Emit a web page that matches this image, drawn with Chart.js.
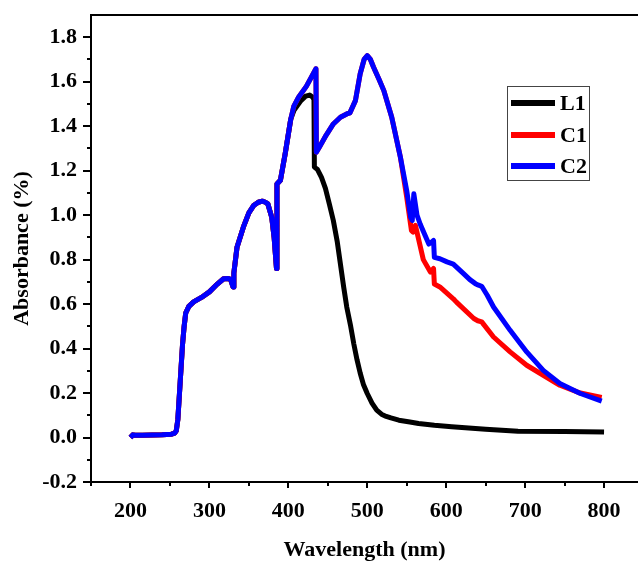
<!DOCTYPE html>
<html>
<head>
<meta charset="utf-8">
<script src="https://cdn.jsdelivr.net/npm/chart.js@4/dist/chart.umd.min.js"></script>
<style>
  html, body { margin: 0; padding: 0; background: #fff; }
  #wrap { width: 638px; height: 564px; }
</style>
</head>
<body>
<div id="wrap"><canvas id="c" width="638" height="564"></canvas></div>
<script>
// ---- data ----
const seriesNames = ['L1', 'C1', 'C2'];
const seriesColors = ['#000000', '#ff0000', '#0000ff'];

// part shared by all three spectra (200–403 nm)
const sharedWavelength = [200, 203, 206, 215, 240, 252, 256, 258, 260, 263, 266, 268, 270, 274, 280, 290, 300, 310, 318, 324, 327, 330, 331, 335, 343, 350, 356, 362, 367, 371, 374, 379, 382, 385, 385.6, 390, 396, 403];
const sharedAbsorbance = [0.00, 0.012, 0.01, 0.01, 0.012, 0.015, 0.02, 0.03, 0.08, 0.25, 0.42, 0.50, 0.56, 0.59, 0.61, 0.63, 0.655, 0.69, 0.714, 0.715, 0.71, 0.677, 0.74, 0.856, 0.946, 1.01, 1.043, 1.058, 1.063, 1.058, 1.051, 0.99, 0.90, 0.76, 1.14, 1.157, 1.276, 1.43];

// L1 tail
const l1Wavelength = [407, 411, 416, 422, 427, 431, 432.5, 433, 437, 442, 447, 452, 457, 462, 466, 470, 474, 479, 483, 487, 491, 495, 500, 506, 512, 518, 524, 530, 540, 554, 565, 585, 607, 650, 691, 750, 800];
const l1Absorbance = [1.47, 1.49, 1.515, 1.535, 1.54, 1.53, 1.52, 1.216, 1.205, 1.17, 1.12, 1.05, 0.976, 0.88, 0.78, 0.68, 0.587, 0.50, 0.42, 0.35, 0.29, 0.24, 0.198, 0.155, 0.123, 0.105, 0.095, 0.088, 0.078, 0.07, 0.063, 0.055, 0.048, 0.037, 0.028, 0.027, 0.025];

// part shared by C1 and C2 (407–542 nm)
const cWavelength = [407, 413, 423, 435, 435.5, 440, 448, 457, 466, 474, 478, 485, 491, 496, 500, 504, 508, 515, 521, 531, 542];
const cAbsorbance = [1.49, 1.53, 1.58, 1.658, 1.283, 1.31, 1.36, 1.41, 1.44, 1.455, 1.46, 1.515, 1.635, 1.70, 1.717, 1.70, 1.665, 1.61, 1.56, 1.44, 1.26];

// C1 tail
const c1Wavelength = [550, 556, 558, 561, 571, 580, 584, 585, 592, 609, 613, 635, 640, 645, 660, 681, 702, 723, 744, 770, 797];
const c1Absorbance = [1.08, 0.93, 0.924, 0.954, 0.80, 0.744, 0.76, 0.69, 0.677, 0.624, 0.609, 0.535, 0.525, 0.52, 0.452, 0.385, 0.325, 0.28, 0.235, 0.20, 0.18];

// C2 tail
const c2Wavelength = [550, 555, 557, 559, 563, 567, 578, 582, 584, 585, 592, 601, 609, 622, 630, 637, 641, 645, 652, 660, 681, 702, 723, 744, 770, 797];
const c2Absorbance = [1.11, 0.99, 0.976, 1.096, 1.0, 0.96, 0.87, 0.88, 0.886, 0.81, 0.804, 0.79, 0.78, 0.737, 0.71, 0.692, 0.685, 0.68, 0.64, 0.587, 0.482, 0.385, 0.302, 0.243, 0.198, 0.164];

const xTickValues = [200, 300, 400, 500, 600, 700, 800];
const yTickValues = [-0.2, 0.0, 0.2, 0.4, 0.6, 0.8, 1.0, 1.2, 1.4, 1.6, 1.8];
const xMinorTicks = [150, 250, 350, 450, 550, 650, 750];
const yMinorTicks = [-0.1, 0.1, 0.3, 0.5, 0.7, 0.9, 1.1, 1.3, 1.5, 1.7];

// ---- build points ----
function pts(xs, ys) { return xs.map((x, i) => ({ x: x, y: ys[i] })); }
const l1Data = pts(sharedWavelength.concat(l1Wavelength), sharedAbsorbance.concat(l1Absorbance));
const c1Data = pts(sharedWavelength.concat(cWavelength, c1Wavelength), sharedAbsorbance.concat(cAbsorbance, c1Absorbance));
const c2Data = pts(sharedWavelength.concat(cWavelength, c2Wavelength), sharedAbsorbance.concat(cAbsorbance, c2Absorbance));

const FONT = "'Liberation Serif', 'Times New Roman', serif";

const extras = {
  id: 'extras',
  afterDraw(chart) {
    const ctx = chart.ctx;
    const area = chart.chartArea;
    const xs = chart.scales.x, ys = chart.scales.y;
    ctx.save();
    ctx.strokeStyle = '#000';
    // top frame line
    ctx.lineWidth = 2;
    ctx.beginPath();
    ctx.moveTo(area.left - 1, area.top);
    ctx.lineTo(chart.width, area.top);
    ctx.stroke();
    // tick marks
    ctx.lineWidth = 2;
    ctx.beginPath();
    yTickValues.forEach(v => { const p = Math.round(ys.getPixelForValue(v)); ctx.moveTo(area.left - 8, p); ctx.lineTo(area.left, p); });
    yMinorTicks.forEach(v => { const p = Math.round(ys.getPixelForValue(v)); ctx.moveTo(area.left - 4, p); ctx.lineTo(area.left, p); });
    xTickValues.forEach(v => { const p = Math.round(xs.getPixelForValue(v)); ctx.moveTo(p, area.bottom); ctx.lineTo(p, area.bottom + 6); });
    xMinorTicks.forEach(v => { const p = Math.round(xs.getPixelForValue(v)); ctx.moveTo(p, area.bottom); ctx.lineTo(p, area.bottom + 4); });
    ctx.stroke();
    // legend
    const bx = 507, by = 86, bw = 82, bh = 94;
    ctx.fillStyle = '#fff';
    ctx.fillRect(bx, by, bw, bh);
    ctx.lineWidth = 1;
    ctx.strokeStyle = '#444';
    ctx.strokeRect(bx + 0.5, by + 0.5, bw, bh);
    const rows = [103, 135, 166];
    ctx.font = 'bold 22px ' + FONT;
    ctx.textBaseline = 'middle';
    ctx.textAlign = 'left';
    seriesNames.forEach((n, i) => {
      ctx.strokeStyle = seriesColors[i];
      ctx.lineWidth = 6;
      ctx.beginPath();
      ctx.moveTo(511, rows[i]);
      ctx.lineTo(555, rows[i]);
      ctx.stroke();
      ctx.fillStyle = '#000';
      ctx.fillText(n, 560, rows[i] + 1);
    });
    ctx.restore();
  }
};

const datasetsData = [l1Data, c1Data, c2Data];
new Chart(document.getElementById('c'), {
  type: 'line',
  data: {
    datasets: seriesNames.map((n, i) => ({
      label: n,
      data: datasetsData[i],
      borderColor: seriesColors[i],
      backgroundColor: seriesColors[i],
      borderWidth: 5,
      pointRadius: 0,
      tension: 0,
      fill: false,
      borderJoinStyle: 'round',
      order: 3 - i
    }))
  },
  options: {
    responsive: false,
    animation: false,
    layout: { padding: { top: 15, right: 0, bottom: 0, left: 0 } },
    plugins: { legend: { display: false }, tooltip: { enabled: false } },
    scales: {
      x: {
        type: 'linear',
        min: 150,
        max: 843,
        afterFit: s => { s.height = 82; s.paddingLeft = 0; s.paddingRight = 0; },
        afterBuildTicks: s => { s.ticks = xTickValues.map(v => ({ value: v })); },
        grid: { display: true, drawOnChartArea: false, drawTicks: false },
        border: { display: true, color: '#000', width: 2 },
        ticks: { color: '#000', padding: 16, maxRotation: 0, font: { family: FONT, size: 22, weight: 'bold' }, callback: v => String(v) },
        title: { display: true, text: 'Wavelength (nm)', color: '#000', padding: { top: 0, bottom: 0 }, font: { family: FONT, size: 22, weight: 'bold', lineHeight: 1.2 } }
      },
      y: {
        type: 'linear',
        min: -0.2,
        max: 1.9,
        afterFit: s => { s.width = 91; s.paddingTop = 0; s.paddingBottom = 0; },
        afterBuildTicks: s => { s.ticks = yTickValues.map(v => ({ value: v })); },
        grid: { display: true, drawOnChartArea: false, drawTicks: false },
        border: { display: true, color: '#000', width: 2 },
        ticks: { color: '#000', padding: 14, font: { family: FONT, size: 22, weight: 'bold' }, callback: v => Number(v).toFixed(1) },
        title: { display: true, text: 'Absorbance (%)', color: '#000', padding: { top: 9, bottom: 0 }, font: { family: FONT, size: 22, weight: 'bold', lineHeight: 1.2 } }
      }
    }
  },
  plugins: [extras]
});
</script>
</body>
</html>
